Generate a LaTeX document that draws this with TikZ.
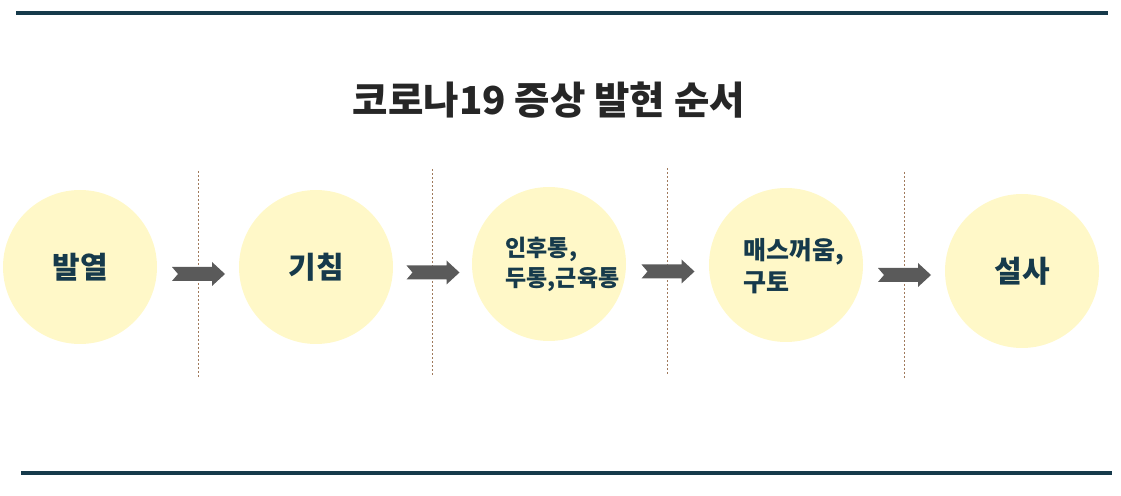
\documentclass[tikz,border=0pt]{standalone}
\usepackage{fontspec}
\newfontfamily\kr{Noto Sans CJK KR}
\usepackage{tikz}
\usetikzlibrary{calc, positioning}
\usepackage{xcolor}
\definecolor{navy}{HTML}{163A4B}
\definecolor{cream}{HTML}{FFF8C8}
\definecolor{sepia}{HTML}{A07A5C}
\definecolor{arrowgray}{HTML}{5A5A5A}
\tikzstyle{symptom} = [circle, fill=cream, minimum size=154pt, inner sep=0pt]
\tikzstyle{label} = [text=navy, font=\kr\bfseries\fontsize{30}{36}\selectfont]
\tikzstyle{divider} = [sepia, line width=0.9pt, dash pattern=on 2pt off 2pt]
\tikzstyle{rule} = [navy, line width=4pt]
\tikzstyle{arrowfill} = [fill=arrowgray]

\begin{document}
\begin{tikzpicture}[x=1pt, y=1pt]
	\useasboundingbox (0, 0) rectangle (1121, 495);
	% rules
	\coordinate (t1) at (16, 482);
	\coordinate (t2) at (1108, 482);
	\coordinate (b1) at (21, 22);
	\coordinate (b2) at (1112, 22);
	\draw[rule] (t1) -- (t2);
	\draw[rule] (b1) -- (b2);
	\node[text=black!85, font=\kr\bfseries\fontsize{38.5}{42}\selectfont] (title) at (549, 395) {코로나19 증상 발현 순서};
	% circles
	\node[symptom] (fever) at (80, 228) {};
	\node[symptom] (cough) at (316, 228) {};
	\node[symptom] (throat) at (549, 231) {};
	\node[symptom] (nausea) at (786, 230) {};
	\node[symptom] (diarrhea) at (1022, 224) {};
	\node[label] (feverlbl) at (fever) {발열};
	\node[label] (coughlbl) at (cough) {기침};
	\node[label, font=\kr\bfseries\fontsize{23}{30}\selectfont, align=left, anchor=west] (throatlbl) at ([xshift=-47pt]throat) {인후통,\\두통,근육통};
	\node[label, font=\kr\bfseries\fontsize{25}{32}\selectfont, align=left, anchor=west] (nausealbl) at ([xshift=-46pt, yshift=-1.5pt]nausea) {매스꺼움,\\구토};
	\node[label] (diarrhealbl) at (diarrhea) {설사};
	% dividers and arrows
	\coordinate (m1) at ($(fever)!.5!(cough) + (0, -7)$);
	\coordinate (m2) at ($(cough)!.5!(throat) + (0, -7)$);
	\coordinate (m3) at ($(throat)!.5!(nausea) + (0, -7)$);
	\coordinate (m4) at ($(nausea)!.5!(diarrhea) + (0, -7)$);
	\foreach \m in {m1, m2, m3, m4} {
		\draw[divider] ([yshift=103pt]\m) -- ([yshift=-103pt]\m);
		\fill[arrowfill] (\m) ++(-26, 7) -- ++(40, 0) -- ++(0, 5) -- ++(13, -12) -- ++(-13, -12) -- ++(0, 5) -- ++(-40, 0) -- ++(6, 7) -- cycle;
	}
\end{tikzpicture}
\end{document}
